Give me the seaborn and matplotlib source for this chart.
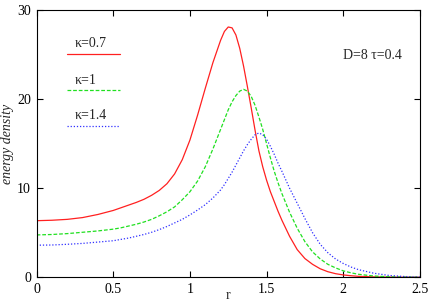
import numpy as np
import pandas as pd
import matplotlib
matplotlib.use('Agg')
import matplotlib.pyplot as plt
import seaborn as sns

# values
r = [0.0, 0.1, 0.2, 0.3, 0.4, 0.5,
     0.55, 0.6, 0.65, 0.7, 0.75, 0.8, 0.85, 0.9, 0.95, 1.0, 1.05, 1.1, 1.15, 1.2,
     1.225, 1.25, 1.275, 1.3, 1.325, 1.35, 1.375, 1.4, 1.425, 1.45, 1.475, 1.5,
     1.525, 1.55, 1.575, 1.6,
     1.65, 1.7, 1.75, 1.8, 1.85, 1.9, 1.95, 2.0, 2.05, 2.1,
     2.2, 2.3, 2.4, 2.5]

kappa_07 = [6.35, 6.4, 6.5, 6.7, 7.05, 7.5,
            7.8, 8.1, 8.4, 8.75, 9.2, 9.75, 10.5, 11.6, 13.2, 15.4, 18.2, 21.2, 24.1, 26.6,
            27.6, 28.1, 28.0, 27.2, 25.7, 23.7, 21.4, 19.0, 16.5, 14.2, 12.4, 10.9,
            9.6, 8.5, 7.4, 6.4,
            4.6, 3.1, 2.1, 1.45, 0.95, 0.62, 0.4, 0.26, 0.17, 0.1,
            0.04, 0.015, 0.005, 0.0]
kappa_1 = [4.75, 4.8, 4.9, 5.05, 5.2, 5.4,
           5.55, 5.75, 5.95, 6.2, 6.5, 6.9, 7.35, 7.9, 8.7, 9.6, 10.8, 12.4, 14.4, 16.6,
           17.7, 18.8, 19.7, 20.4, 20.9, 21.1, 20.9, 20.3, 19.3, 18.0, 16.6, 15.0,
           13.4, 11.9, 10.6, 9.4,
           7.3, 5.5, 4.0, 2.85, 2.05, 1.45, 1.05, 0.72, 0.5, 0.33,
           0.14, 0.05, 0.02, 0.0]
kappa_14 = [3.6, 3.62, 3.7, 3.8, 3.95, 4.1,
            4.25, 4.4, 4.6, 4.8, 5.05, 5.35, 5.7, 6.1, 6.5, 7.0, 7.55, 8.15, 8.9, 9.8,
            10.4, 11.1, 11.8, 12.6, 13.4, 14.2, 14.9, 15.5, 16.0, 16.2, 16.0, 15.5,
            14.7, 13.8, 12.8, 11.9,
            10.0, 8.3, 6.6, 5.0, 3.7, 2.75, 2.05, 1.55, 1.15, 0.85,
            0.45, 0.2, 0.08, 0.02]

labels = ['κ=0.7', 'κ=1', 'κ=1.4']
colors = ['#ff2020', '#20e020', '#3030ff']
x_ticks = [0, 0.5, 1, 1.5, 2, 2.5]
x_tick_labels = ['0', '0.5', '1', '1.5', '2', '2.5']
y_ticks = [0, 10, 20, 30]

df = pd.concat([
    pd.DataFrame({'r': r, 'e': vals, 'kappa': lab})
    for vals, lab in zip([kappa_07, kappa_1, kappa_14], labels)
], ignore_index=True)

sns.set_theme(style='ticks')
plt.rcParams['font.family'] = ['Liberation Serif', 'DejaVu Serif']
plt.rcParams['font.size'] = 10

fig = plt.figure(figsize=(4.36, 3.05), dpi=100)
ax = fig.add_axes([0.084, 0.091, 0.879, 0.876])

dash_map = {labels[0]: '', labels[1]: (3, 1.5), labels[2]: (1, 1.5)}
sns.lineplot(data=df, x='r', y='e', hue='kappa', style='kappa',
             palette=dict(zip(labels, colors)), dashes=dash_map,
             linewidth=0.9, legend=False, ax=ax, sort=False)

ax.set_xlim(0, 2.5)
ax.set_ylim(0, 30)
ax.set_xticks(x_ticks)
ax.set_xticklabels(x_tick_labels)
ax.set_yticks(y_ticks)
ax.tick_params(direction='in', length=4, width=0.8, top=True, right=True,
               labelsize=10, colors='black', pad=4)
for s in ax.spines.values():
    s.set_color('black')
    s.set_linewidth(0.8)

ax.set_xlabel('r', fontsize=10)
ax.xaxis.set_label_coords(0.5, -0.045)
ax.set_ylabel('energy density', fontsize=10, style='italic', labelpad=2)

# gnuplot-style key: text above each line sample
key_y = [0.835, 0.700, 0.566]
for lab, col, ky, ls in zip(labels, colors, key_y, ['-', (0, (3, 1.5)), (0, (1, 1.5))]):
    ax.plot([0.079, 0.217], [ky, ky], transform=ax.transAxes, color=col,
            lw=0.9, linestyle=ls)
    ax.text(0.1, ky + 0.038, lab, transform=ax.transAxes, fontsize=10,
            ha='left', va='center')

ax.text(0.875, 0.83, 'D=8 τ=0.4', transform=ax.transAxes, fontsize=10,
        ha='center', va='center')

fig.savefig('out.png', dpi=100)
